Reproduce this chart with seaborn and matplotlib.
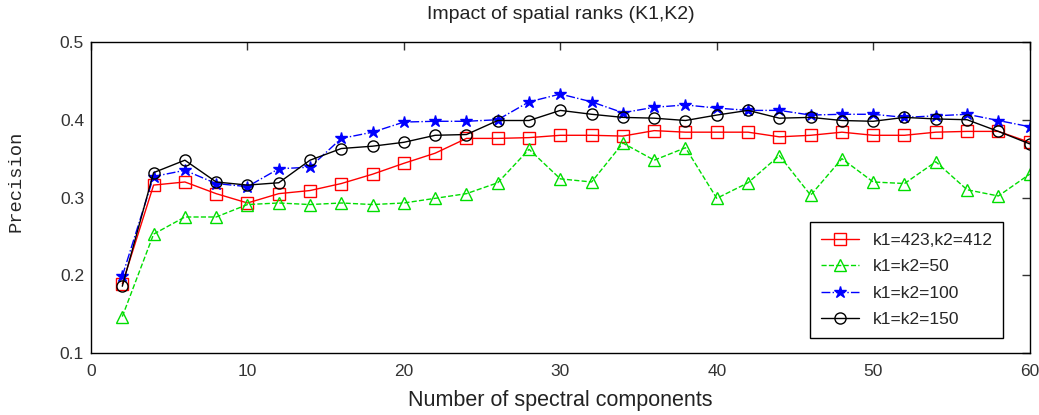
import numpy as np
import pandas as pd
import matplotlib
matplotlib.use('Agg')
import matplotlib.pyplot as plt
import seaborn as sns

# Данные
components = list(range(2, 61, 2))

prec_423_412 = [0.189, 0.316, 0.320, 0.305, 0.293, 0.305, 0.309, 0.318, 0.330, 0.344,
                0.357, 0.376, 0.376, 0.377, 0.380, 0.380, 0.379, 0.386, 0.384, 0.384,
                0.384, 0.378, 0.380, 0.384, 0.380, 0.380, 0.384, 0.385, 0.385, 0.371]
prec_50 = [0.147, 0.253, 0.275, 0.275, 0.291, 0.293, 0.291, 0.293, 0.291, 0.293,
           0.299, 0.305, 0.319, 0.362, 0.324, 0.320, 0.370, 0.348, 0.364, 0.299,
           0.319, 0.354, 0.303, 0.350, 0.320, 0.318, 0.346, 0.310, 0.302, 0.330]
prec_100 = [0.199, 0.327, 0.335, 0.318, 0.314, 0.337, 0.339, 0.376, 0.384, 0.397,
            0.398, 0.398, 0.400, 0.423, 0.433, 0.423, 0.409, 0.416, 0.419, 0.415,
            0.412, 0.412, 0.406, 0.407, 0.407, 0.403, 0.405, 0.407, 0.399, 0.391]
prec_150 = [0.186, 0.332, 0.348, 0.320, 0.316, 0.319, 0.348, 0.363, 0.366, 0.371,
            0.380, 0.381, 0.399, 0.399, 0.412, 0.407, 0.403, 0.402, 0.399, 0.406,
            0.412, 0.402, 0.403, 0.399, 0.398, 0.403, 0.401, 0.400, 0.385, 0.369]

labels = ['k1=423,k2=412', 'k1=k2=50', 'k1=k2=100', 'k1=k2=150']

sns.set_style('white')
plt.rcParams['font.family'] = ['Liberation Sans', 'DejaVu Sans']

fig = plt.figure(figsize=(10.39, 4.15), dpi=100)
ax = fig.add_axes([0.0876, 0.149, 0.9034, 0.75])

series = [
    (prec_423_412, labels[0], '#ff0000', '-', 's', 'none', 9),
    (prec_50, labels[1], '#00dd00', '--', '^', 'none', 9),
    (prec_100, labels[2], '#0000ff', '-.', '*', '#0000ff', 9),
    (prec_150, labels[3], '#000000', '-', 'o', 'none', 8),
]
for vals, lab, col, ls, mk, mfc, ms in series:
    df = pd.DataFrame({'x': components, 'y': vals})
    sns.lineplot(data=df, x='x', y='y', ax=ax, color=col, linestyle=ls, linewidth=1,
                 marker=mk, markersize=ms, markerfacecolor=mfc, markeredgecolor=col,
                 markeredgewidth=1, label=lab)

ax.set_xlim(0, 60)
ax.set_ylim(0.1, 0.5)
ax.set_xticks([0, 10, 20, 30, 40, 50, 60])
ax.set_yticks([0.1, 0.2, 0.3, 0.4, 0.5])
ax.tick_params(direction='in', length=6, width=1, top=True, right=True,
               labelsize=12.5, colors='#333333')
ax.tick_params(axis='x', pad=8)
ax.tick_params(axis='y', pad=5)
for sp in ax.spines.values():
    sp.set_color('black')
    sp.set_linewidth(1)

ax.set_title('Impact of spatial ranks (K1,K2)', fontsize=14, y=1.087, va='center',
             color='#222222', pad=0)
ax.set_xlabel('Number of spectral components', fontsize=15.5, color='#222222')
ax.xaxis.set_label_coords(0.5, -0.151)
ax.xaxis.label.set_va('center')
ax.set_ylabel('Precision', fontsize=13.5, family=['Liberation Mono', 'DejaVu Sans Mono'])
ax.yaxis.set_label_coords(-0.08, 0.553)
ax.yaxis.label.set_va('center')

leg = ax.legend(loc='lower right', bbox_to_anchor=(0.981, 0.022), fontsize=12.5,
                frameon=True, fancybox=False, edgecolor='black', framealpha=1,
                handlelength=2.2, borderpad=0.6, labelspacing=0.65)
leg.get_frame().set_linewidth(1)

fig.savefig('out.png', dpi=100)
